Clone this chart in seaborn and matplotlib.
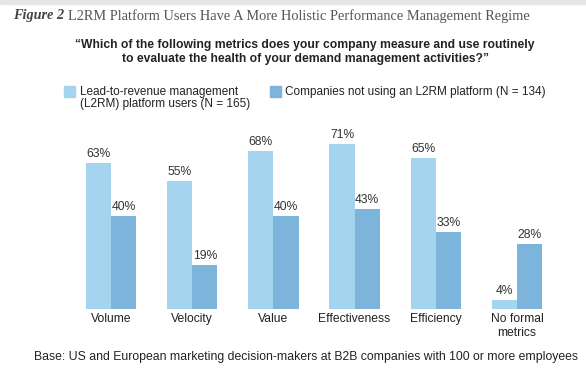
import matplotlib
matplotlib.use("Agg")
import matplotlib.pyplot as plt
import seaborn as sns
import pandas as pd

categories = ["Volume", "Velocity", "Value", "Effectiveness", "Efficiency", "No formal\nmetrics"]
l2rm_users = [63, 55, 68, 71, 65, 4]
non_users = [40, 19, 40, 43, 33, 28]
series_names = ["Lead-to-revenue management\n(L2RM) platform users (N = 165)",
                "Companies not using an L2RM platform (N = 134)"]
colors = ["#a5d4ee", "#7cb4db"]

df = pd.DataFrame({
    "metric": categories * 2,
    "pct": l2rm_users + non_users,
    "group": [series_names[0]] * len(categories) + [series_names[1]] * len(categories),
})

sns.set_style("white")
plt.rcParams["font.family"] = ["Liberation Sans", "DejaVu Sans"]

fig = plt.figure(figsize=(5.86, 3.84), dpi=100)
ax = fig.add_axes([70.5 / 586, 75 / 384, 487 / 586, 186 / 384])

sns.barplot(data=df, x="metric", y="pct", hue="group", palette=colors,
            width=0.62, gap=0, saturation=1, legend=False, linewidth=0, ax=ax)

for container in ax.containers:
    ax.bar_label(container, labels=[f"{v:.0f}%" for v in container.datavalues],
                 padding=2, fontsize=8.7, color="#333333")

ax.set_ylim(0, 80)
ax.set_xlim(-0.5, len(categories) - 0.5)
ax.set_xlabel("")
ax.set_ylabel("")
ax.set_yticks([])
ax.tick_params(axis="x", length=0, labelsize=8.7, labelcolor="#222222", pad=3)
sns.despine(ax=ax, left=True, bottom=True)

# gray band at top
fig.patches.append(plt.Rectangle((0, 1 - 4 / 384), 1, 4 / 384, transform=fig.transFigure,
                                 color="#e6e6e6", zorder=0))

fig.text(13 / 586, 1 - 16 / 384, "Figure 2", fontsize=10.3, family="Liberation Serif",
         style="italic", weight="bold", color="#444444", va="center")
fig.text(68 / 586, 1 - 16 / 384, "L2RM Platform Users Have A More Holistic Performance Management Regime",
         fontsize=10.4, family="Liberation Serif", color="#555555", va="center")

fig.text(305 / 586, 1 - 52 / 384,
         "\u201cWhich of the following metrics does your company measure and use routinely\n"
         "to evaluate the health of your demand management activities?\u201d",
         ha="center", va="center", fontsize=8.7, weight="bold", color="#222222", linespacing=1.15)

# legend
fig.patches.append(plt.Rectangle((64 / 586, 1 - 97 / 384), 11 / 586, 11 / 384,
                                 transform=fig.transFigure, color=colors[0]))
fig.text(80 / 586, 1 - 98 / 384, series_names[0], fontsize=8.5, color="#222222",
         va="center", linespacing=1.0)
fig.patches.append(plt.Rectangle((270 / 586, 1 - 97 / 384), 11 / 586, 11 / 384,
                                 transform=fig.transFigure, color=colors[1]))
fig.text(285 / 586, 1 - 92 / 384, series_names[1], fontsize=8.5, color="#222222", va="center")

fig.text(305.5 / 586, 1 - 357 / 384,
         "Base: US and European marketing decision-makers at B2B companies with 100 or more employees",
         ha="center", va="center", fontsize=8.8, color="#222222")

fig.savefig("out.png", dpi=100)
